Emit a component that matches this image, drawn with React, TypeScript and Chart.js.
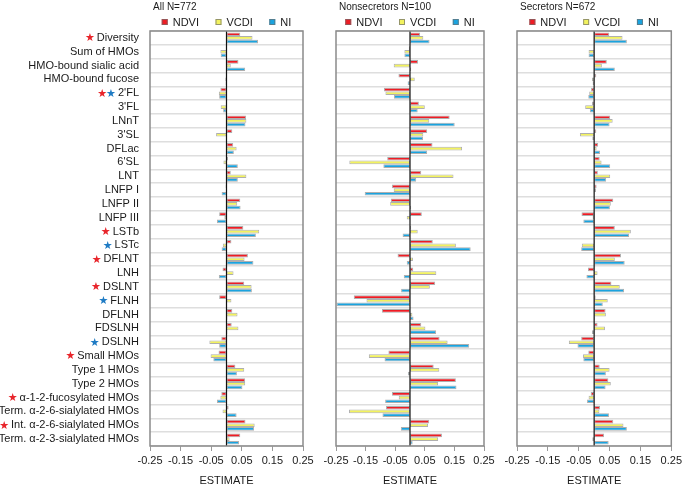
import React, { useEffect, useRef } from "react";
import { Chart, registerables } from "chart.js";

Chart.register(...registerables);

const FONT = "'Liberation Sans', Arial, Helvetica, sans-serif";
Chart.defaults.font.family = FONT;
Chart.defaults.color = "#1a1a1a";

const categories = [
  "Diversity",
  "Sum of HMOs",
  "HMO-bound sialic acid",
  "HMO-bound fucose",
  "2'FL",
  "3'FL",
  "LNnT",
  "3'SL",
  "DFLac",
  "6'SL",
  "LNT",
  "LNFP I",
  "LNFP II",
  "LNFP III",
  "LSTb",
  "LSTc",
  "DFLNT",
  "LNH",
  "DSLNT",
  "FLNH",
  "DFLNH",
  "FDSLNH",
  "DSLNH",
  "Small HMOs",
  "Type 1 HMOs",
  "Type 2 HMOs",
  "α-1-2-fucosylated HMOs",
  "Term. α-2-6-sialylated HMOs",
  "Int. α-2-6-sialylated HMOs",
  "Term. α-2-3-sialylated HMOs",
];

const seriesNames = ["NDVI", "VCDI", "NI"];
const panelTitles = ["All N=772", "Nonsecretors N=100", "Secretors N=672"];
const xTicks = [-0.25, -0.15, -0.05, 0.05, 0.15, 0.25];
const xTitle = "ESTIMATE";

const redStarred = ["Diversity", "2'FL", "LSTb", "DFLNT", "DSLNT", "Small HMOs", "α-1-2-fucosylated HMOs", "Int. α-2-6-sialylated HMOs"];
const blueStarred = ["2'FL", "LSTc", "FLNH", "DSLNH"];

// All N=772
const allNDVI = [0.045, -0.002, 0.039, -0.002, -0.02, -0.002, 0.064, 0.019, 0.022, 0.005, 0.014, -0.003, 0.045, -0.024, 0.055, 0.016, 0.07, -0.013, 0.058, -0.024, 0.019, 0.017, -0.017, -0.026, 0.029, 0.061, -0.017, 0.007, 0.062, 0.045];
const allVCDI = [0.085, -0.02, 0.014, -0.004, -0.025, -0.019, 0.065, -0.034, 0.033, -0.01, 0.065, -0.001, 0.035, -0.007, 0.107, -0.012, 0.059, 0.023, 0.082, 0.016, 0.036, 0.039, -0.056, -0.052, 0.058, 0.061, -0.02, -0.013, 0.092, 0.01];
const allNI = [0.103, -0.019, 0.061, -0.003, -0.024, -0.011, 0.062, 0.001, 0.024, 0.037, 0.037, -0.016, 0.046, -0.031, 0.096, -0.016, 0.088, -0.025, 0.083, -0.002, 0.003, 0.003, -0.024, -0.043, 0.034, 0.052, -0.031, 0.033, 0.09, 0.041];

// Nonsecretors N=100
const nonsecNDVI = [0.034, -0.004, 0.027, -0.039, -0.088, 0.03, 0.134, 0.058, 0.076, -0.077, 0.038, -0.061, -0.065, 0.04, 0.004, 0.077, -0.042, 0.011, 0.085, -0.19, -0.095, 0.038, 0.1, -0.073, 0.08, 0.155, -0.061, -0.081, 0.065, 0.108];
const nonsecVCDI = [0.045, -0.019, -0.055, 0.016, -0.083, 0.05, 0.065, 0.045, 0.176, -0.205, 0.147, -0.055, -0.067, -0.011, 0.026, 0.155, 0.01, 0.089, 0.067, -0.147, 0.008, 0.052, 0.127, -0.139, 0.099, 0.095, -0.038, -0.206, 0.061, 0.095];
const nonsecNI = [0.066, -0.019, 0.004, -0.008, -0.054, 0.026, 0.151, 0.044, 0.058, -0.09, 0.021, -0.153, 0.004, 0.0, -0.025, 0.205, -0.011, -0.021, -0.03, -0.248, 0.012, 0.088, 0.2, -0.086, -0.007, 0.157, -0.084, -0.093, -0.031, 0.009];

// Secretors N=672
const secNDVI = [0.049, -0.001, 0.041, 0.007, -0.01, -0.007, 0.052, 0.007, 0.013, 0.018, 0.012, 0.008, 0.062, -0.041, 0.067, 0.002, 0.087, -0.02, 0.056, 0.005, 0.037, 0.011, -0.042, -0.019, 0.018, 0.046, -0.011, 0.019, 0.062, 0.032];
const secVCDI = [0.092, -0.018, 0.025, -0.007, -0.016, -0.029, 0.06, -0.046, 0.008, 0.024, 0.052, 0.006, 0.054, -0.005, 0.119, -0.04, 0.067, 0.011, 0.083, 0.044, 0.038, 0.035, -0.082, -0.036, 0.05, 0.054, -0.018, 0.017, 0.095, -0.006];
const secNI = [0.106, -0.018, 0.067, -0.005, -0.019, -0.014, 0.05, -0.006, 0.019, 0.052, 0.039, 0.001, 0.051, -0.035, 0.113, -0.042, 0.099, -0.025, 0.097, 0.028, 0.002, -0.007, -0.054, -0.035, 0.038, 0.037, -0.023, 0.048, 0.106, 0.047];

const COLORS = ["#ee1c24", "#f2f25e", "#1aa3df"];
const STAR_RED = "#e8252b";
const STAR_BLUE = "#1f7bc4";

type PanelProps = {
  left: number;
  width: number;
  padLeft: number;
  padRight: number;
  showLabels: boolean;
  title: string;
  values: number[][];
};

const H = 493;

function makeFramePlugin(title: string, showLabels: boolean) {
  return {
    id: "frame",
    afterDraw(chart: any) {
      const { ctx, chartArea } = chart;
      const xs = chart.scales.x;
      const ys = chart.scales.y;
      const { left, right, top, bottom } = chartArea;
      ctx.save();
      // zero line
      const x0 = xs.getPixelForValue(0);
      ctx.strokeStyle = "#111";
      ctx.lineWidth = 1.2;
      ctx.beginPath();
      ctx.moveTo(x0, top);
      ctx.lineTo(x0, bottom);
      ctx.stroke();
      // frame
      ctx.strokeStyle = "#8a8a8a";
      ctx.lineWidth = 1.5;
      ctx.strokeRect(left, top, right - left, bottom - top);
      // title
      ctx.fillStyle = "#1a1a1a";
      ctx.font = `10px ${FONT}`;
      ctx.textAlign = "left";
      ctx.textBaseline = "middle";
      ctx.fillText(title, left + 3, 7.5);
      // legend
      ctx.font = `11px ${FONT}`;
      const box = 6;
      const gapText = 5;
      const itemGap = 16.5;
      const widths = seriesNames.map((n) => box + gapText + ctx.measureText(n).width);
      const total = widths.reduce((a, b) => a + b, 0) + itemGap * (seriesNames.length - 1);
      let lx = (left + right) / 2 - total / 2;
      const ly = 22;
      seriesNames.forEach((n, i) => {
        ctx.fillStyle = COLORS[i];
        ctx.fillRect(lx, ly - box / 2, box, box);
        ctx.strokeStyle = "rgba(110,110,110,0.7)";
        ctx.lineWidth = 1;
        ctx.strokeRect(lx + 0.5, ly - box / 2 + 0.5, box - 1, box - 1);
        ctx.fillStyle = "#1a1a1a";
        ctx.fillText(n, lx + box + gapText, ly + 0.5);
        lx += widths[i] + itemGap;
      });
      // stars
      if (showLabels) {
        categories.forEach((c, i) => {
          const isRed = redStarred.includes(c);
          const isBlue = blueStarred.includes(c);
          if (!isRed && !isBlue) return;
          ctx.font = `11px ${FONT}`;
          const w = ctx.measureText(c).width;
          const y = ys.getPixelForValue(i);
          let sx = left - 11 - w - 2;
          ctx.font = `11px 'DejaVu Sans', sans-serif`;
          ctx.textAlign = "right";
          if (isBlue) {
            ctx.fillStyle = STAR_BLUE;
            ctx.fillText("★", sx, y + 0.5);
            sx -= ctx.measureText("★").width - 1;
          }
          if (isRed) {
            ctx.fillStyle = STAR_RED;
            ctx.fillText("★", sx, y + 0.5);
          }
        });
      }
      ctx.restore();
    },
  };
}

function Panel({ left, width, padLeft, padRight, showLabels, title, values }: PanelProps) {
  const ref = useRef<HTMLCanvasElement | null>(null);
  useEffect(() => {
    if (!ref.current) return;
    const chart = new Chart(ref.current, {
      type: "bar",
      data: {
        labels: categories,
        datasets: seriesNames.map((n, i) => ({
          label: n,
          data: values[i],
          backgroundColor: COLORS[i],
          borderColor: "rgba(110,110,110,0.55)",
          borderWidth: 1,
          borderSkipped: false,
          categoryPercentage: 0.8,
          barPercentage: 1.0,
        })),
      },
      options: {
        indexAxis: "y",
        responsive: false,
        animation: false,
        devicePixelRatio: 1,
        layout: { padding: { left: padLeft, right: padRight, top: 31, bottom: 5.6 } },
        plugins: {
          legend: { display: false },
          title: { display: false },
          tooltip: { enabled: false },
        },
        scales: {
          x: {
            type: "linear",
            min: -0.25,
            max: 0.25,
            afterBuildTicks: (s: any) => {
              s.ticks = xTicks.map((v) => ({ value: v }));
            },
            ticks: {
              callback: (v: any) => Number(v).toFixed(2),
              font: { size: 11, family: FONT },
              color: "#1a1a1a",
              padding: 3,
              maxRotation: 0,
              autoSkip: false,
            },
            grid: { drawOnChartArea: false, drawTicks: true, tickLength: 5, color: "#999" },
            border: { display: false },
            title: {
              display: true,
              text: xTitle,
              font: { size: 11, family: FONT },
              color: "#1a1a1a",
              padding: { top: 4, bottom: 0 },
            },
          },
          y: {
            type: "category",
            offset: true,
            grid: { offset: true, color: "#dedede", lineWidth: 1.5, drawTicks: false },
            border: { display: false },
            ticks: {
              display: showLabels,
              font: { size: 11, family: FONT },
              color: "#1a1a1a",
              padding: 11,
              autoSkip: false,
            },
            afterFit: (s: any) => {
              s.width = showLabels ? 150 : 0;
            },
          },
        },
      } as any,
      plugins: [makeFramePlugin(title, showLabels)],
    });
    return () => chart.destroy();
  }, []);
  return (
    <div style={{ position: "absolute", left, top: 0, width, height: H }}>
      <canvas ref={ref} width={width} height={H} style={{ display: "block", width, height: H }} />
    </div>
  );
}

export default function App() {
  return (
    <div style={{ position: "fixed", left: 0, top: 0, width: 685, height: H, background: "#fff" }}>
      <Panel left={0} width={318} padLeft={0} padRight={15} showLabels={true} title={panelTitles[0]} values={[allNDVI, allVCDI, allNI]} />
      <Panel left={318} width={181} padLeft={18} padRight={15} showLabels={false} title={panelTitles[1]} values={[nonsecNDVI, nonsecVCDI, nonsecNI]} />
      <Panel left={499} width={186} padLeft={18} padRight={12} showLabels={false} title={panelTitles[2]} values={[secNDVI, secVCDI, secNI]} />
    </div>
  );
}
